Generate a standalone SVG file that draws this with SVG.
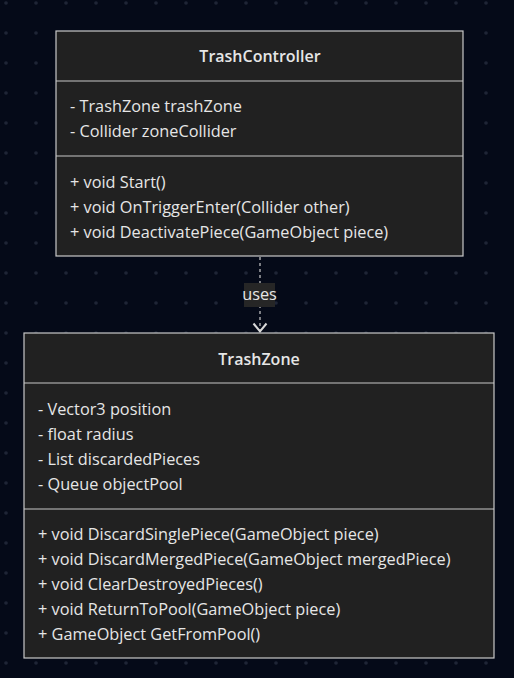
<svg xmlns="http://www.w3.org/2000/svg" width="514" height="678" viewBox="0 0 514 678">
<defs>
<pattern id="grid" x="6" y="3" width="30" height="30" patternUnits="userSpaceOnUse">
<circle cx="0" cy="0" r="1.8" fill="#1f2536"/>
<circle cx="30" cy="0" r="1.8" fill="#1f2536"/>
<circle cx="0" cy="30" r="1.8" fill="#1f2536"/>
<circle cx="30" cy="30" r="1.8" fill="#1f2536"/>
</pattern>
<marker id="arr" markerWidth="16" markerHeight="16" refX="11.5" refY="8" orient="auto" markerUnits="userSpaceOnUse">
<path d="M3,1.5 L11,8 L3,14.5" fill="none" stroke="#d8d8d8" stroke-width="2"/>
</marker>
<style>
.box{fill:#212121;stroke:#c8c8c8;stroke-width:1.2}
.div{stroke:#c8c8c8;stroke-width:1.2}
text{font-family:"Open Sans","Liberation Sans",sans-serif;font-size:16.3px;fill:#e6e6e6}
.title{font-weight:600;font-size:16px;text-anchor:middle}
</style>
</defs>
<rect width="514" height="678" fill="#050a18"/>
<rect width="514" height="678" fill="url(#grid)"/>
<g id="connectors">
<path d="M260,257 L260,332" fill="none" stroke="#cccccc" stroke-width="1.2" stroke-dasharray="3,3" marker-end="url(#arr)"/>
<rect x="244" y="283" width="31" height="24" fill="#262626"/>
<text x="259.5" y="300" text-anchor="middle" font-size="15.5">uses</text>
</g>
<g id="TrashController">
<rect class="box" x="56" y="31" width="407" height="225"/>
<line class="div" x1="56" y1="81" x2="463" y2="81"/>
<line class="div" x1="56" y1="156" x2="463" y2="156"/>
<text class="title" x="260" y="62">TrashController</text>
<text x="70" y="112">- TrashZone trashZone</text>
<text x="70" y="137">- Collider zoneCollider</text>
<text x="70" y="188">+ void Start()</text>
<text x="70" y="213">+ void OnTriggerEnter(Collider other)</text>
<text x="70" y="238">+ void DeactivatePiece(GameObject piece)</text>
</g>
<g id="TrashZone">
<rect class="box" x="24" y="333" width="470" height="325"/>
<line class="div" x1="24" y1="383" x2="494" y2="383"/>
<line class="div" x1="24" y1="509" x2="494" y2="509"/>
<text class="title" x="259" y="365">TrashZone</text>
<text x="38" y="415">- Vector3 position</text>
<text x="38" y="440">- float radius</text>
<text x="38" y="465">- List discardedPieces</text>
<text x="38" y="490">- Queue objectPool</text>
<text x="38" y="540">+ void DiscardSinglePiece(GameObject piece)</text>
<text x="38" y="565">+ void DiscardMergedPiece(GameObject mergedPiece)</text>
<text x="38" y="590">+ void ClearDestroyedPieces()</text>
<text x="38" y="615">+ void ReturnToPool(GameObject piece)</text>
<text x="38" y="640">+ GameObject GetFromPool()</text>
</g>
</svg>
